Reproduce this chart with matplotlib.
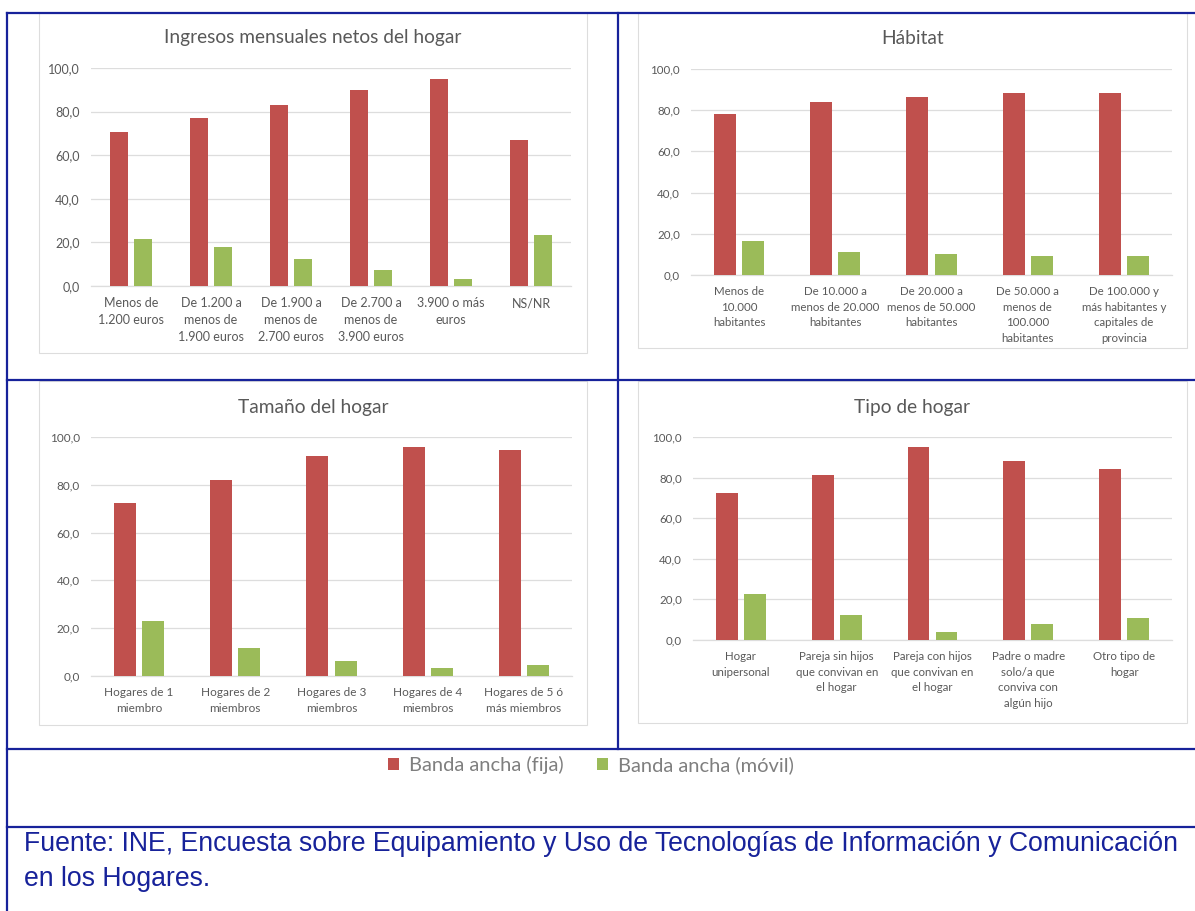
import matplotlib
matplotlib.use('Agg')
import matplotlib.pyplot as plt
from matplotlib.lines import Line2D
from matplotlib.patches import Rectangle

W, H = 1195, 911

SERIES = ['Banda ancha (fija)', 'Banda ancha (móvil)']
COLORS = ['#C0504D', '#9BBB59']

# ingresos mensuales netos del hogar
INGRESOS_LABELS = [
    'Menos de\n1.200 euros',
    'De 1.200 a\nmenos de\n1.900 euros',
    'De 1.900 a\nmenos de\n2.700 euros',
    'De 2.700 a\nmenos de\n3.900 euros',
    '3.900 o más\neuros',
    'NS/NR',
]
INGRESOS_FIJA = [70.8, 77.0, 83.2, 90.1, 94.8, 66.9]
INGRESOS_MOVIL = [21.6, 18.0, 12.4, 7.3, 3.3, 23.4]

# habitat
HABITAT_LABELS = [
    'Menos de\n10.000\nhabitantes',
    'De 10.000 a\nmenos de 20.000\nhabitantes',
    'De 20.000 a\nmenos de 50.000\nhabitantes',
    'De 50.000 a\nmenos de\n100.000\nhabitantes',
    'De 100.000 y\nmás habitantes y\ncapitales de\nprovincia',
]
HABITAT_FIJA = [78.0, 84.1, 86.6, 88.5, 88.5]
HABITAT_MOVIL = [16.5, 11.3, 10.4, 9.1, 9.1]

# tamaño del hogar
TAMANO_LABELS = [
    'Hogares de 1\nmiembro',
    'Hogares de 2\nmiembros',
    'Hogares de 3\nmiembros',
    'Hogares de 4\nmiembros',
    'Hogares de 5 ó\nmás miembros',
]
TAMANO_FIJA = [72.4, 82.2, 91.9, 95.7, 94.6]
TAMANO_MOVIL = [22.9, 11.8, 6.4, 3.2, 4.7]

# tipo de hogar
TIPO_LABELS = [
    'Hogar\nunipersonal',
    'Pareja sin hijos\nque convivan en\nel hogar',
    'Pareja con hijos\nque convivan en\nel hogar',
    'Padre o madre\nsolo/a que\nconviva con\nalgún hijo',
    'Otro tipo de\nhogar',
]
TIPO_FIJA = [72.5, 81.5, 95.1, 88.4, 84.3]
TIPO_MOVIL = [22.8, 12.3, 4.1, 8.0, 11.0]

YTICKS = [0, 20, 40, 60, 80, 100]
FUENTE = ('Fuente: INE, Encuesta sobre Equipamiento y Uso de Tecnologías de '
          'Información y Comunicación\nen los Hogares.')

BLUE = '#17229A'
GREY_TEXT = '#595959'
GRID = '#DDDDDD'
BAR_W = 0.228
BAR_GAP = 0.065

plt.rcParams['font.family'] = ['Lato', 'DejaVu Sans']

fig = plt.figure(figsize=(W / 100, H / 100), dpi=100)


def fx(x):
    return x / W


def fy(y):
    return 1 - y / H


def hline(y, x0, x1):
    fig.add_artist(Line2D([fx(x0), fx(x1)], [fy(y), fy(y)], color=BLUE, lw=1.6,
                          transform=fig.transFigure))


def vline(x, y0, y1):
    fig.add_artist(Line2D([fx(x), fx(x)], [fy(y0), fy(y1)], color=BLUE, lw=1.6,
                          transform=fig.transFigure))


def chart(box, area, title, title_y, labels, fija, movil, fs):
    bx0, by0, bx1, by1 = box
    fig.add_artist(Rectangle((fx(bx0), fy(by1)), fx(bx1) - fx(bx0), fy(by0) - fy(by1),
                             transform=fig.transFigure, facecolor='white',
                             edgecolor=GRID, lw=0.8, zorder=-5))
    x0, y0, x1, y1 = area
    ax = fig.add_axes([fx(x0), fy(y1), fx(x1) - fx(x0), fy(y0) - fy(y1)])
    idx = list(range(len(labels)))
    off = (BAR_W + BAR_GAP) / 2
    ax.bar([i - off for i in idx], fija, width=BAR_W, color=COLORS[0], label=SERIES[0], zorder=3)
    ax.bar([i + off for i in idx], movil, width=BAR_W, color=COLORS[1], label=SERIES[1], zorder=3)
    ax.set_xlim(-0.5, len(labels) - 0.5)
    ax.set_ylim(0, 100)
    ax.set_yticks(YTICKS)
    ax.set_yticklabels(['{:.1f}'.format(v).replace('.', ',') for v in YTICKS])
    ax.set_xticks(idx)
    ax.set_xticklabels(labels, linespacing=1.5)
    ax.tick_params(axis='both', length=0, colors=GREY_TEXT, labelsize=fs)
    ax.tick_params(axis='y', pad=8)
    ax.tick_params(axis='x', pad=8)
    ax.grid(axis='y', color=GRID, lw=0.9, zorder=0)
    for s in ['top', 'right', 'left']:
        ax.spines[s].set_visible(False)
    ax.spines['bottom'].set_color(GRID)
    ax.spines['bottom'].set_linewidth(0.9)
    ax.set_facecolor('none')
    fig.text(fx((bx0 + bx1) / 2), fy(title_y), title, ha='center', va='center',
             fontsize=13.8, color=GREY_TEXT)
    return ax


ax1 = chart((39, 13, 587, 353), (91, 68, 571, 286), 'Ingresos mensuales netos del hogar', 38,
            INGRESOS_LABELS, INGRESOS_FIJA, INGRESOS_MOVIL, 9)
chart((638, 13, 1187, 348), (691, 69, 1172, 275), 'Hábitat', 38,
      HABITAT_LABELS, HABITAT_FIJA, HABITAT_MOVIL, 8.3)
chart((39, 381, 587, 725), (91, 437, 572, 676), 'Tamaño del hogar', 407,
      TAMANO_LABELS, TAMANO_FIJA, TAMANO_MOVIL, 8.5)
chart((638, 381, 1187, 723), (693, 437, 1172, 640), 'Tipo de hogar', 407,
      TIPO_LABELS, TIPO_FIJA, TIPO_MOVIL, 8.3)

# table lines
hline(13, 7, W)
hline(380, 7, W)
hline(749, 7, W)
hline(827, 7, W)
vline(7, 13, H)
vline(618, 13, 749)

handles, labs = ax1.get_legend_handles_labels()
leg = fig.legend(handles, labs, loc='center', bbox_to_anchor=(fx(591), fy(765)), ncol=2,
                 frameon=False, fontsize=14.5, handlelength=0.5, handleheight=0.5,
                 handletextpad=0.5, columnspacing=1.7)
for t in leg.get_texts():
    t.set_color('#7F7F7F')

fig.text(fx(24), fy(831), FUENTE, ha='left', va='top', fontsize=19.2, color=BLUE,
         family='Liberation Sans', linespacing=1.46)

fig.savefig('out.png', dpi=100)
